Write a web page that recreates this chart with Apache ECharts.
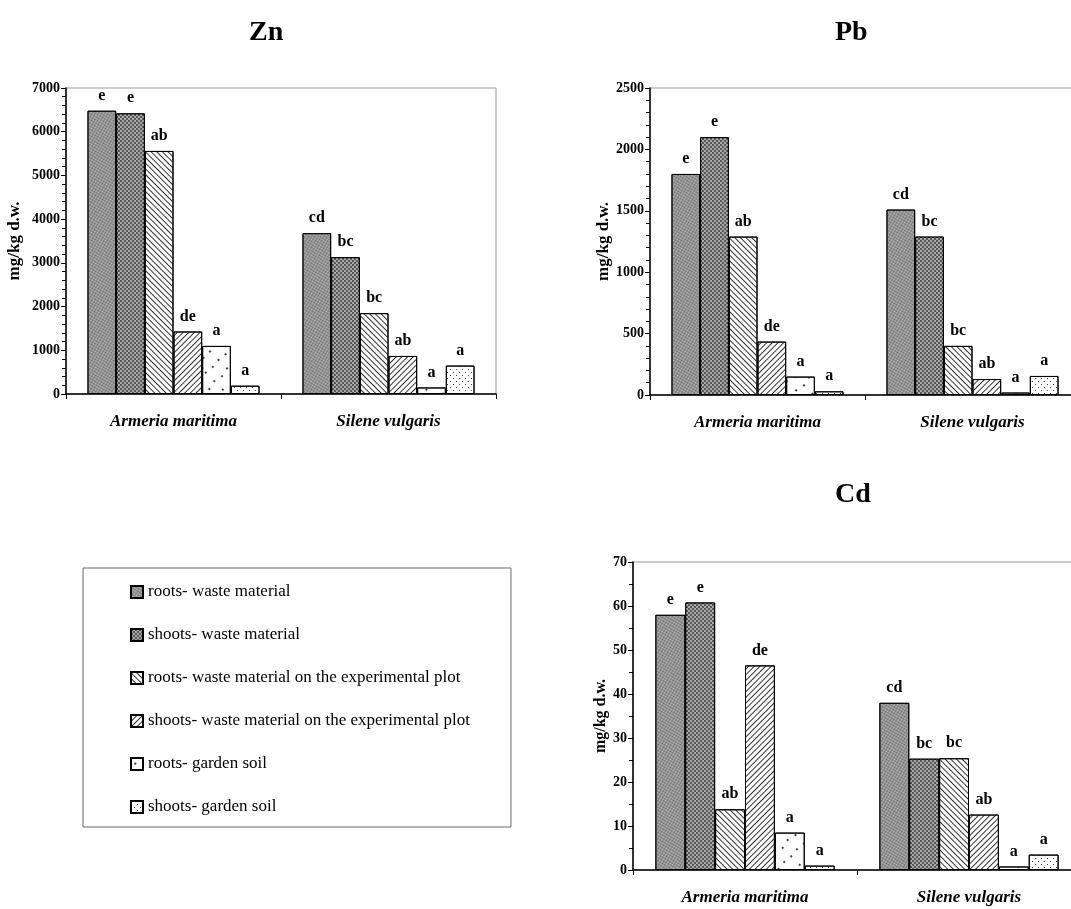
<!DOCTYPE html>
<html>
<head>
<meta charset="utf-8">
<title>Zn, Pb, Cd</title>
<script src="https://cdn.jsdelivr.net/npm/echarts@6/dist/echarts.min.js"></script>
<style>
  html, body { margin: 0; padding: 0; background: #fff; }
  #chart { width: 1071px; height: 909px; }
</style>
</head>
<body>
<div id="chart"></div>
<script>
// Données
const categories = ['Armeria maritima', 'Silene vulgaris'];
const treatments = [
  'roots- waste material',
  'shoots- waste material',
  'roots- waste material on the experimental plot',
  'shoots- waste material on the experimental plot',
  'roots- garden soil',
  'shoots- garden soil'
];
// une ligne par traitement : [Armeria, Silene]
const znValues = [[6480, 3680], [6420, 3130], [5560, 1850], [1430, 870], [1100, 150], [190, 650]];
const pbValues = [[1800, 1510], [2100, 1290], [1290, 400], [435, 130], [150, 20], [30, 155]];
const cdValues = [[58, 38], [60.8, 25.3], [13.8, 25.4], [46.5, 12.6], [8.5, 0.8], [1.0, 3.5]];
const letters = [['e', 'cd'], ['e', 'bc'], ['ab', 'bc'], ['de', 'ab'], ['a', 'a'], ['a', 'a']];

const FONT = 'Liberation Serif';

// motifs (decal) pour chaque traitement
const styles = [
  { color: '#b5b5b5', decal: { symbol: 'rect', symbolSize: 1, color: '#707070', dashArrayX: [[1, 1], [0, 1, 1, 0]], dashArrayY: [1, 0] } },
  { color: '#585858', decal: { symbol: 'circle', symbolSize: 0.9, color: '#cfcfcf', dashArrayX: [[2, 2], [0, 2, 2, 0]], dashArrayY: [2, 0] } },
  { color: '#ffffff', decal: { symbol: 'rect', symbolSize: 1, color: '#333', dashArrayX: [1, 0], dashArrayY: [1, 3], rotation: Math.PI / 4 } },
  { color: '#ffffff', decal: { symbol: 'rect', symbolSize: 1, color: '#333', dashArrayX: [1, 0], dashArrayY: [1, 3], rotation: -Math.PI / 4 } },
  { color: '#ffffff', decal: { symbol: 'rect', symbolSize: 1, color: '#444', dashArrayX: [[1.5, 10], [0, 6, 1.5, 4.5]], dashArrayY: [1.5, 7] } },
  { color: '#ffffff', decal: { symbol: 'rect', symbolSize: 1, color: '#444', dashArrayX: [[1, 5], [0, 3, 1, 2]], dashArrayY: [1, 2] } }
];

const panels = [
  { title: 'Zn', titlePos: [244, 14], grid: { left: 66, top: 88, width: 430, height: 306 }, max: 7000, interval: 1000, minor: 5, nameGap: 43, nameSize: 17, values: znValues },
  { title: 'Pb', titlePos: [830, 14], grid: { left: 650, top: 88, width: 430, height: 307 }, max: 2500, interval: 500, minor: 5, nameGap: 37, nameSize: 17, values: pbValues },
  { title: 'Cd', titlePos: [830, 476], grid: { left: 633, top: 562, width: 448, height: 308 }, max: 70, interval: 10, minor: 2, nameGap: 22, nameSize: 16, values: cdValues }
];

function buildOption() {
  const title = [], grid = [], xAxis = [], yAxis = [], series = [];

  panels.forEach((p, i) => {
    title.push({
      text: p.title,
      left: p.titlePos[0],
      top: p.titlePos[1],
      textStyle: { fontFamily: FONT, fontSize: 28, fontWeight: 'bold', color: '#000' }
    });
    grid.push(Object.assign({
      show: true,
      borderColor: '#999',
      borderWidth: 1,
      backgroundColor: 'transparent',
      containLabel: false,
      outerBoundsMode: 'none'
    }, p.grid));
    xAxis.push({
      type: 'category',
      gridIndex: i,
      data: categories,
      axisLine: { lineStyle: { color: '#000', width: 1.5 } },
      axisTick: { show: true, length: 5, lineStyle: { color: '#000' } },
      axisLabel: { margin: 19, fontFamily: FONT, fontSize: 17, fontWeight: 'bold', fontStyle: 'italic', color: '#000' },
      splitLine: { show: false }
    });
    yAxis.push({
      type: 'value',
      gridIndex: i,
      min: 0,
      max: p.max,
      interval: p.interval,
      name: 'mg/kg d.w.',
      nameLocation: 'middle',
      nameGap: p.nameGap,
      nameTextStyle: { fontFamily: FONT, fontSize: p.nameSize, fontWeight: 'bold', color: '#000' },
      axisLine: { show: true, lineStyle: { color: '#000', width: 1.5 } },
      axisTick: { show: true, length: 5, lineStyle: { color: '#000' } },
      minorTick: { show: true, splitNumber: p.minor, length: 4, lineStyle: { color: '#000' } },
      axisLabel: {
        margin: 6,
        formatter: (v) => String(v),
        fontFamily: FONT, fontSize: 14, fontWeight: 'bold', color: '#000'
      },
      splitLine: { show: false }
    });

    treatments.forEach((name, k) => {
      series.push({
        name: name,
        type: 'bar',
        xAxisIndex: i,
        yAxisIndex: i,
        data: p.values[k],
        barGap: '0%',
        barCategoryGap: '20%',
        itemStyle: {
          color: styles[k].color,
          decal: styles[k].decal,
          borderColor: '#000',
          borderWidth: 1
        },
        label: {
          show: true,
          position: 'top',
          distance: 7,
          formatter: (prm) => letters[k][prm.dataIndex],
          fontFamily: FONT,
          fontSize: 16,
          fontWeight: 'bold',
          color: '#000'
        },
        emphasis: { disabled: true }
      });
    });
  });

  return {
    animation: false,
    backgroundColor: '#fff',
    aria: { enabled: true, decal: { show: true } },
    title: title,
    legend: {
      data: treatments,
      orient: 'vertical',
      left: 83,
      top: 568,
      padding: [15, 41, 11, 47],
      itemGap: 25,
      itemWidth: 12,
      itemHeight: 12,
      borderColor: '#666',
      borderWidth: 1,
      selectedMode: false,
      icon: 'rect',
      textStyle: { fontFamily: FONT, fontSize: 17, color: '#000', lineHeight: 18 }
    },
    grid: grid,
    xAxis: xAxis,
    yAxis: yAxis,
    series: series
  };
}

const myChart = echarts.init(document.getElementById('chart'));
myChart.setOption(buildOption());
</script>
</body>
</html>
